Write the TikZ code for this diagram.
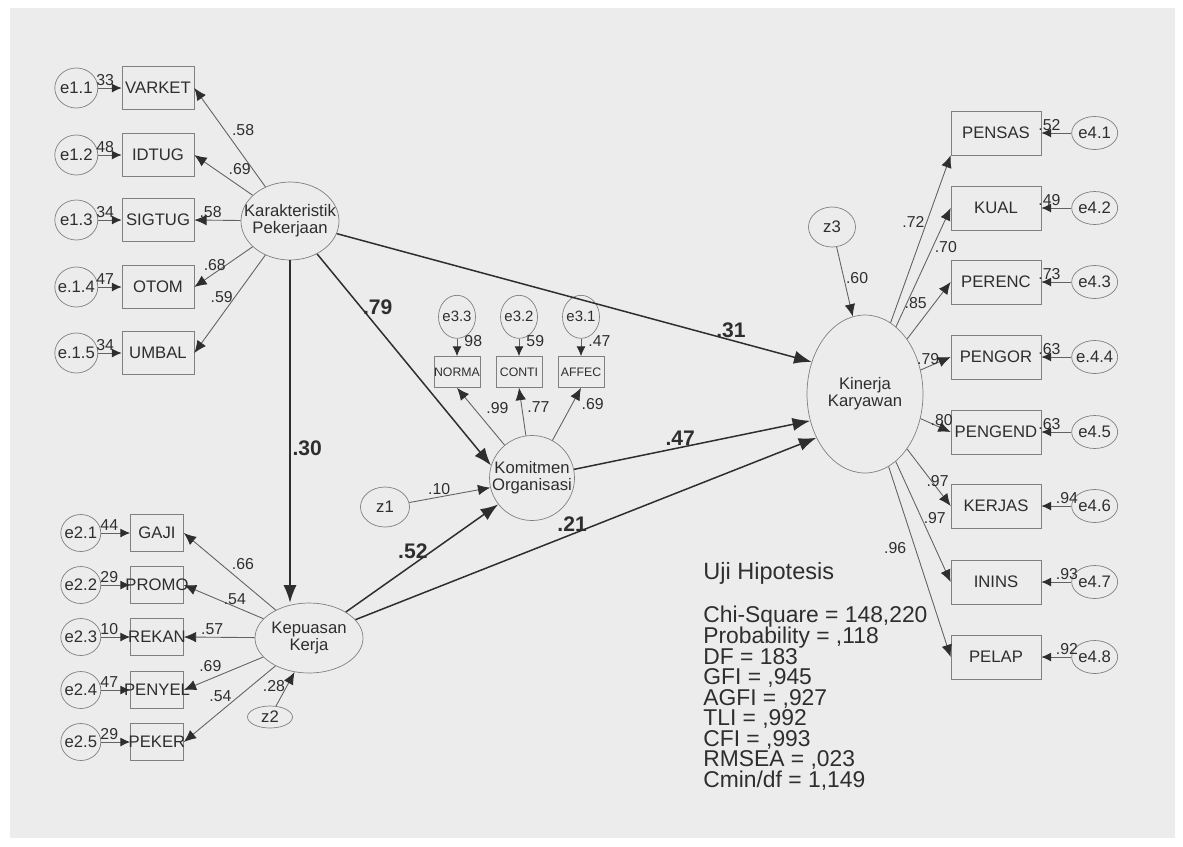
\documentclass[tikz,border=0pt]{standalone}
\usepackage{fontspec}
\setmainfont{Liberation Sans}
\usepackage{xcolor}
\usepackage{tikz}
\usetikzlibrary{arrows.meta,positioning,shapes.geometric}

\definecolor{paper}{HTML}{ECECEC}
\definecolor{inkgray}{HTML}{2E2E2E}
\definecolor{linegray}{HTML}{626262}
\definecolor{edgegray}{HTML}{808080}

\begin{document}
\begin{tikzpicture}[>=Latex, x=0.02cm, y=-0.02cm, node distance=0.5cm,
  every node/.style={text=inkgray},
  latent/.style={ellipse, draw=edgegray, inner sep=-10pt, align=center,
    font=\fontsize{9.5}{9.8}\selectfont},
  errc/.style={ellipse, draw=edgegray, inner sep=-3pt, font=\fontsize{9.5}{11}\selectfont},
  obs/.style={draw=edgegray, inner ysep=0pt, inner xsep=-8pt, font=\fontsize{9.5}{11}\selectfont},
  obsa/.style={obs, minimum width=1.44cm, minimum height=0.86cm},
  obsb/.style={obs, minimum width=1.06cm, minimum height=0.74cm},
  obsc/.style={obs, minimum width=0.92cm, minimum height=0.62cm, font=\fontsize{7}{8}\selectfont},
  obsd/.style={obs, minimum width=1.8cm, minimum height=0.88cm},
  erra/.style={errc, minimum width=0.86cm, minimum height=0.8cm},
  errb/.style={errc, minimum width=0.8cm, minimum height=0.74cm},
  errd/.style={errc, minimum width=0.92cm, minimum height=0.66cm},
  load/.style={draw=linegray, line width=0.5pt, -{Latex[length=7pt,width=6pt,color=inkgray]}},
  resid/.style={draw=linegray, line width=0.5pt, -{Latex[length=5.5pt,width=5pt,color=inkgray]}},
  path/.style={draw=inkgray, line width=0.85pt, -{Latex[length=10pt,width=7.5pt,color=inkgray]}},
  num/.style={inner sep=1pt, font=\fontsize{9}{10}\selectfont},
  coef/.style={inner sep=1pt, font=\bfseries\fontsize{12}{14}\selectfont}]

\useasboundingbox (0,0) rectangle (1183,846);
\fill[white] (0,0) rectangle (1183,846);
\fill[paper] (10,8) rectangle (1175,838);

% latent variables
\node[latent, minimum width=1.96cm, minimum height=1.56cm] (karak) at (290,221) {Karakteristik\\Pekerjaan};
\node[latent, minimum width=2.16cm, minimum height=1.4cm] (kepuas) at (309,638) {Kepuasan\\Kerja};
\node[latent, minimum width=1.7cm, minimum height=1.7cm] (komit) at (532,478) {Komitmen\\Organisasi};
\node[latent, minimum width=2.32cm, minimum height=3.16cm] (kinerja) at (865,394) {Kinerja\\Karyawan};

% disturbances
\node[errc, minimum width=0.98cm, minimum height=0.8cm] (z1) at (385,507) {z1};
\node[errc, minimum width=0.9cm, minimum height=0.44cm] (z2) at (270,717) {z2};
\node[errc, minimum width=0.94cm, minimum height=0.8cm] (z3) at (832,227) {z3};

% indicators of Karakteristik Pekerjaan
\node[obsa] (varket) at (158,88) {VARKET};
\node[obsa] (idtug) at (158,155) {IDTUG};
\node[obsa] (sigtug) at (158,220) {SIGTUG};
\node[obsa] (otom) at (158,287) {OTOM};
\node[obsa] (umbal) at (158,353) {UMBAL};
\node[erra, left=0.47cm of varket] (e11) {e1.1};
\node[erra, left=0.47cm of idtug] (e12) {e1.2};
\node[erra, left=0.47cm of sigtug] (e13) {e1.3};
\node[erra, left=0.47cm of otom] (e14) {e.1.4};
\node[erra, left=0.47cm of umbal] (e15) {e.1.5};

% indicators of Kepuasan Kerja
\node[obsb] (gaji) at (157,533) {GAJI};
\node[obsb] (promo) at (157,585) {PROMO};
\node[obsb] (rekan) at (157,637) {REKAN};
\node[obsb] (penyel) at (157,690) {PENYEL};
\node[obsb] (peker) at (157,742) {PEKER};
\node[errb, left=0.58cm of gaji] (e21) {e2.1};
\node[errb, left=0.58cm of promo] (e22) {e2.2};
\node[errb, left=0.58cm of rekan] (e23) {e2.3};
\node[errb, left=0.58cm of penyel] (e24) {e2.4};
\node[errb, left=0.58cm of peker] (e25) {e2.5};

% indicators of Komitmen Organisasi
\node[obsc] (norma) at (457,372) {NORMA};
\node[obsc] (conti) at (519,372) {CONTI};
\node[obsc] (affec) at (581,372) {AFFEC};
\node[errc, minimum width=0.74cm, minimum height=0.86cm, font=\fontsize{8.5}{10}\selectfont, above=0.35cm of norma] (e33) {e3.3};
\node[errc, minimum width=0.74cm, minimum height=0.86cm, font=\fontsize{8.5}{10}\selectfont, above=0.35cm of conti] (e32) {e3.2};
\node[errc, minimum width=0.74cm, minimum height=0.86cm, font=\fontsize{8.5}{10}\selectfont, above=0.35cm of affec] (e31) {e3.1};

% indicators of Kinerja Karyawan
\node[obsd] (pensas) at (996,133) {PENSAS};
\node[obsd] (kual) at (996,208) {KUAL};
\node[obsd] (perenc) at (996,282) {PERENC};
\node[obsd] (pengor) at (996,357) {PENGOR};
\node[obsd] (pengend) at (996,432) {PENGEND};
\node[obsd] (kerjas) at (996,506) {KERJAS};
\node[obsd] (inins) at (996,582) {ININS};
\node[obsd] (pelap) at (996,657) {PELAP};
\node[errd, right=0.6cm of pensas] (e41) {e4.1};
\node[errd, right=0.6cm of kual] (e42) {e4.2};
\node[errd, right=0.6cm of perenc] (e43) {e4.3};
\node[errd, right=0.6cm of pengor] (e44) {e.4.4};
\node[errd, right=0.6cm of pengend] (e45) {e4.5};
\node[errd, right=0.6cm of kerjas] (e46) {e4.6};
\node[errd, right=0.6cm of inins] (e47) {e4.7};
\node[errd, right=0.6cm of pelap] (e48) {e4.8};

% loadings
\draw[load] (karak) -- node[num,above right,pos=.5] {.58} (varket.east);
\draw[load] (karak) -- node[num,above right,pos=.45] {.69} (idtug.east);
\draw[load] (karak) -- node[num,above,pos=.65] {.58} (sigtug.east);
\draw[load] (karak) -- node[num,above,pos=.65] {.68} (otom.east);
\draw[load] (karak) -- node[num,left,pos=.43] {.59} (umbal.east);

\draw[load] (kepuas) -- node[num,above right,pos=.5] {.66} (gaji.east);
\draw[load] (kepuas) -- node[num,above,pos=.36] {.54} (promo.east);
\draw[load] (kepuas) -- node[num,above,pos=.6] {.57} (rekan.east);
\draw[load] (kepuas) -- node[num,above left,pos=.5] {.69} (penyel.east);
\draw[load] (kepuas) -- node[num,left=3pt,pos=.4] {.54} (peker.east);

\draw[load] (komit) -- node[num,right=6pt,pos=.65] {.99} (norma.south);
\draw[load] (komit) -- node[num,right=2pt,pos=.6] {.77} (conti.south);
\draw[load] (komit) -- node[num,right=4pt,pos=.7] {.69} (affec.south);

\draw[load] (kinerja) -- node[num,left,pos=.6] {.72} (pensas.south west);
\draw[load] (kinerja) -- node[num,right,pos=.67] {.70} (kual.west);
\draw[load] (kinerja) -- node[num,above left,pos=.5] {.85} (perenc.west);
\draw[load] (kinerja) -- node[num,above,pos=.25] {.79} (pengor.west);
\draw[load] (kinerja) -- node[num,above,pos=.7] {.80} (pengend.west);
\draw[load] (kinerja) -- node[num,above,pos=.7] {.97} (kerjas.west);
\draw[load] (kinerja) -- node[num,right,pos=.47] {.97} (inins.west);
\draw[load] (kinerja) -- node[num,left=4pt,pos=.43] {.96} (pelap.west);

% measurement errors
\draw[resid] (e11) -- node[num,above,pos=.3] {33} (varket);
\draw[resid] (e12) -- node[num,above,pos=.3] {48} (idtug);
\draw[resid] (e13) -- node[num,above,pos=.3] {34} (sigtug);
\draw[resid] (e14) -- node[num,above,pos=.3] {47} (otom);
\draw[resid] (e15) -- node[num,above,pos=.3] {34} (umbal);

\draw[resid] (e21) -- node[num,above,pos=.28] {44} (gaji);
\draw[resid] (e22) -- node[num,above,pos=.28] {29} (promo);
\draw[resid] (e23) -- node[num,above,pos=.28] {10} (rekan);
\draw[resid] (e24) -- node[num,above,pos=.28] {47} (penyel);
\draw[resid] (e25) -- node[num,above,pos=.28] {29} (peker);

\draw[resid] (e33) -- node[num,right=3pt,pos=.15] {98} (norma);
\draw[resid] (e32) -- node[num,right=3pt,pos=.15] {59} (conti);
\draw[resid] (e31) -- node[num,right=3pt,pos=.15] {.47} (affec);

\draw[resid] (e41) -- node[num,above,pos=.73] {.52} (pensas);
\draw[resid] (e42) -- node[num,above,pos=.73] {.49} (kual);
\draw[resid] (e43) -- node[num,above,pos=.73] {.73} (perenc);
\draw[resid] (e44) -- node[num,above,pos=.73] {.63} (pengor);
\draw[resid] (e45) -- node[num,above,pos=.73] {.63} (pengend);
\draw[resid] (e46) -- node[num,above,pos=.15] {.94} (kerjas);
\draw[resid] (e47) -- node[num,above,pos=.15] {.93} (inins);
\draw[resid] (e48) -- node[num,above,pos=.15] {.92} (pelap);

% structural paths
\draw[path] (karak.south) -- node[coef,right,pos=.55] {.30} (karak.south |- kepuas.north);
\draw[path] (karak) -- node[coef,right,pos=.25] {.79} (komit.163);
\draw[path] (karak) -- node[coef,above,pos=.83] {.31} (kinerja.149);
\draw[path] (komit) -- node[coef,above,pos=.45] {.47} (kinerja.206);
\draw[path] (kepuas) -- node[coef,above,pos=.47] {.21} (kinerja.222);
\draw[path] (kepuas) -- node[coef,above=2pt,pos=.44] {.52} (komit.218);
\draw[load] (z1) -- node[num,above,pos=.37] {.10} (komit.193);
\draw[load] (z2) -- node[num,left,pos=.6] {.28} (kepuas.247);
\draw[load] (z3) -- node[num,right,pos=.45] {.60} (kinerja.99);

% fit indices
\node[anchor=west, inner sep=0pt, font=\fontsize{13.4}{15}\selectfont] (uji) at (703,573) {Uji Hipotesis};
\node[anchor=north west, inner sep=0pt, align=left,
  font={\fontsize{13}{11.7}\selectfont\lineskiplimit=-10pt}] (fit) at (703,606)
  {Chi-Square = 148,220\\Probability = ,118\\DF = 183\\GFI = ,945\\AGFI = ,927\\TLI = ,992\\CFI = ,993\\RMSEA = ,023\\Cmin/df = 1,149};
\end{tikzpicture}
\end{document}
